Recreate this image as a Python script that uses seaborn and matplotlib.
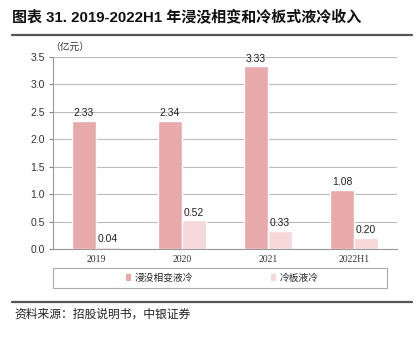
import matplotlib
matplotlib.use("Agg")
import matplotlib.pyplot as plt
import seaborn as sns
import pandas as pd
from matplotlib.patches import Rectangle, Patch
from matplotlib.lines import Line2D

categories = ["2019", "2020", "2021", "2022H1"]
series_names = ["浸没相变液冷", "冷板液冷"]
immersion = [2.33, 2.34, 3.33, 1.08]
coldplate = [0.04, 0.52, 0.33, 0.20]
colors = ["#E8A9AA", "#F6D8D9"]

df = pd.DataFrame({
    "year": categories * 2,
    "series": [series_names[0]] * 4 + [series_names[1]] * 4,
    "value": immersion + coldplate,
})

sns.set_style("white")
cjk = ["Noto Sans CJK SC", "DejaVu Sans"]
plt.rcParams["font.family"] = ["Liberation Sans", "Noto Sans CJK SC", "DejaVu Sans"]

fig = plt.figure(figsize=(4.17, 3.39), dpi=100)
ax = fig.add_axes([53/417, 1-249/339, 344/417, (249-57)/339])

sns.barplot(data=df, x="year", y="value", hue="series", palette=colors,
            width=0.56, saturation=1, ax=ax, legend=False, errorbar=None)

for cont in ax.containers:
    ax.bar_label(cont, fmt="%.2f", padding=2, fontsize=7.5, color="#222222")

ax.set_ylim(0, 3.5)
ax.set_yticks([0, 0.5, 1.0, 1.5, 2.0, 2.5, 3.0, 3.5])
ax.set_yticklabels([f"{v:.1f}" for v in ax.get_yticks()], fontsize=7.5, color="#333333")
ax.set_xlim(-0.5, 3.5)
ax.set_xticks([0, 1, 2, 3])
ax.set_xticklabels(categories, fontsize=7, family="Liberation Serif", color="#333333")
ax.set_xticks([-0.5, 0.5, 1.5, 2.5, 3.5], minor=True)
ax.tick_params(axis="x", which="major", length=0, pad=4)
ax.tick_params(axis="x", which="minor", length=3, color="#888888", direction="out")
ax.tick_params(axis="y", length=3, color="#888888", direction="out", pad=3, left=True)
ax.set_xlabel("")
ax.set_ylabel("")
ax.grid(axis="y", color="#BBBBBB", linewidth=0.8)
ax.set_axisbelow(True)
for s in ["top", "right"]:
    ax.spines[s].set_visible(False)
for s in ["left", "bottom"]:
    ax.spines[s].set_color("#999999")
    ax.spines[s].set_linewidth(0.8)

fig.text(50/417, 1-47/339, "（亿元）", fontsize=7, family=cjk, color="#333333", va="center")

# title
fig.text(12/417, 1-17/339, "图表 31. 2019-2022H1 年浸没相变和冷板式液冷收入",
         fontsize=10.8, fontweight="bold", family=["Liberation Sans", "Noto Sans CJK SC"],
         va="center", ha="left", color="#111111")
fig.add_artist(Line2D([12/417, 412/417], [1-35/339, 1-35/339], color="#555555", linewidth=1.6))
fig.add_artist(Line2D([12/417, 412/417], [1-302/339, 1-302/339], color="#555555", linewidth=1.6))

# legend
fig.add_artist(Rectangle((53/417, 1-288/339), 334/417, 20/339, transform=fig.transFigure,
                         fill=False, edgecolor="#AAAAAA", linewidth=0.8))
handles = [Patch(facecolor=c, edgecolor="none") for c in colors]
fig.legend(handles, series_names, loc="center", bbox_to_anchor=(222/417, 1-278/339),
           ncol=2, frameon=False, prop={"family": cjk, "size": 7},
           handlelength=0.6, handleheight=0.6, handletextpad=0.3, columnspacing=8.0)

fig.text(14/417, 1-314/339, "资料来源：招股说明书，中银证券", fontsize=8.5, family=cjk,
         style="italic", va="center", ha="left", color="#222222")

fig.savefig("out.png", dpi=100)
